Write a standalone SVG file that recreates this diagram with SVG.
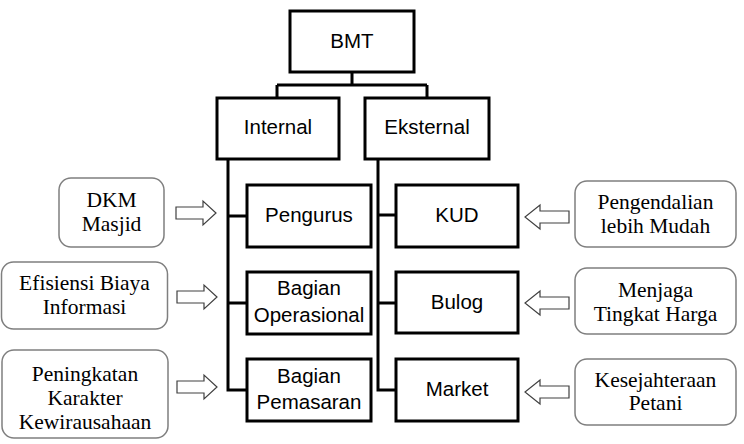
<svg xmlns="http://www.w3.org/2000/svg" width="744" height="444" viewBox="0 0 744 444">
<style>
.box{fill:#fff;stroke:#000;stroke-width:3}
.rbox{fill:#fff;stroke:#7f7f7f;stroke-width:1.5}
.sans{font-family:"Liberation Sans",Arial,sans-serif;font-size:20.5px;fill:#000;text-anchor:middle}
.serif{font-family:"Liberation Serif","Times New Roman",serif;font-size:21.5px;fill:#000;text-anchor:middle}
.ln{fill:none;stroke:#000;stroke-width:3}
.arr{fill:#fff;stroke:#404040;stroke-width:1.2}
</style>
<rect width="744" height="444" fill="#fff"/>
<g id="connectors">
<path class="ln" d="M352 72V85M277 85H427M277 85V98M427 85V98"/>
<path class="ln" d="M228 159V390H247M228 216H247M228 303H247"/>
<path class="ln" d="M378 159V390H396M378 215H396M378 303H396"/>
<path class="arr" d="M176 207H203V201L216 213L203 225V219H176Z"/>
<path class="arr" d="M177 291H204V285L217 297L204 309V303H177Z"/>
<path class="arr" d="M177 381H204V375L217 387L204 399V393H177Z"/>
<path class="arr" d="M569 211H540V205L525 217L540 229V223H569Z"/>
<path class="arr" d="M569 297H540V291L525 303L540 315V309H569Z"/>
<path class="arr" d="M569 386H540V380L525 392L540 404V398H569Z"/>
</g>
<g id="bmt"><rect class="box" x="290" y="11" width="124" height="61"/><text class="sans" x="352" y="48">BMT</text></g>
<g id="internal"><rect class="box" x="217" y="98" width="122" height="61"/><text class="sans" x="278" y="134">Internal</text></g>
<g id="eksternal"><rect class="box" x="365" y="98" width="124" height="61"/><text class="sans" x="427" y="134">Eksternal</text></g>
<g id="pengurus"><rect class="box" x="247" y="185" width="124" height="62"/><text class="sans" x="309" y="222">Pengurus</text></g>
<g id="operasional"><rect class="box" x="247" y="272" width="124" height="62"/><text class="sans" x="309" y="295">Bagian</text><text class="sans" x="309" y="322">Operasional</text></g>
<g id="pemasaran"><rect class="box" x="247" y="359" width="124" height="62"/><text class="sans" x="309" y="383">Bagian</text><text class="sans" x="309" y="409">Pemasaran</text></g>
<g id="kud"><rect class="box" x="396" y="185" width="122" height="62"/><text class="sans" x="457" y="222">KUD</text></g>
<g id="bulog"><rect class="box" x="396" y="272" width="122" height="61"/><text class="sans" x="457" y="309">Bulog</text></g>
<g id="market"><rect class="box" x="396" y="359" width="122" height="62"/><text class="sans" x="457" y="396">Market</text></g>
<g id="dkm"><rect class="rbox" x="59" y="178" width="105" height="69" rx="12"/><text class="serif" x="111.5" y="207">DKM</text><text class="serif" x="111.5" y="231">Masjid</text></g>
<g id="efisiensi"><rect class="rbox" x="1.5" y="262" width="166" height="67" rx="12"/><text class="serif" x="84.5" y="290">Efisiensi Biaya</text><text class="serif" x="84.5" y="314">Informasi</text></g>
<g id="peningkatan"><rect class="rbox" x="2" y="350" width="166" height="88" rx="12"/><text class="serif" x="85" y="381">Peningkatan</text><text class="serif" x="85" y="405">Karakter</text><text class="serif" x="85" y="429">Kewirausahaan</text></g>
<g id="pengendalian"><rect class="rbox" x="575" y="181" width="161" height="66" rx="12"/><text class="serif" x="655.5" y="209">Pengendalian</text><text class="serif" x="655.5" y="233">lebih Mudah</text></g>
<g id="menjaga"><rect class="rbox" x="575" y="268" width="161" height="66" rx="12"/><text class="serif" x="655.5" y="297">Menjaga</text><text class="serif" x="655.5" y="321">Tingkat Harga</text></g>
<g id="kesejahteraan"><rect class="rbox" x="575" y="359" width="161" height="66" rx="12"/><text class="serif" x="655.5" y="387">Kesejahteraan</text><text class="serif" x="655.5" y="410">Petani</text></g>
</svg>
